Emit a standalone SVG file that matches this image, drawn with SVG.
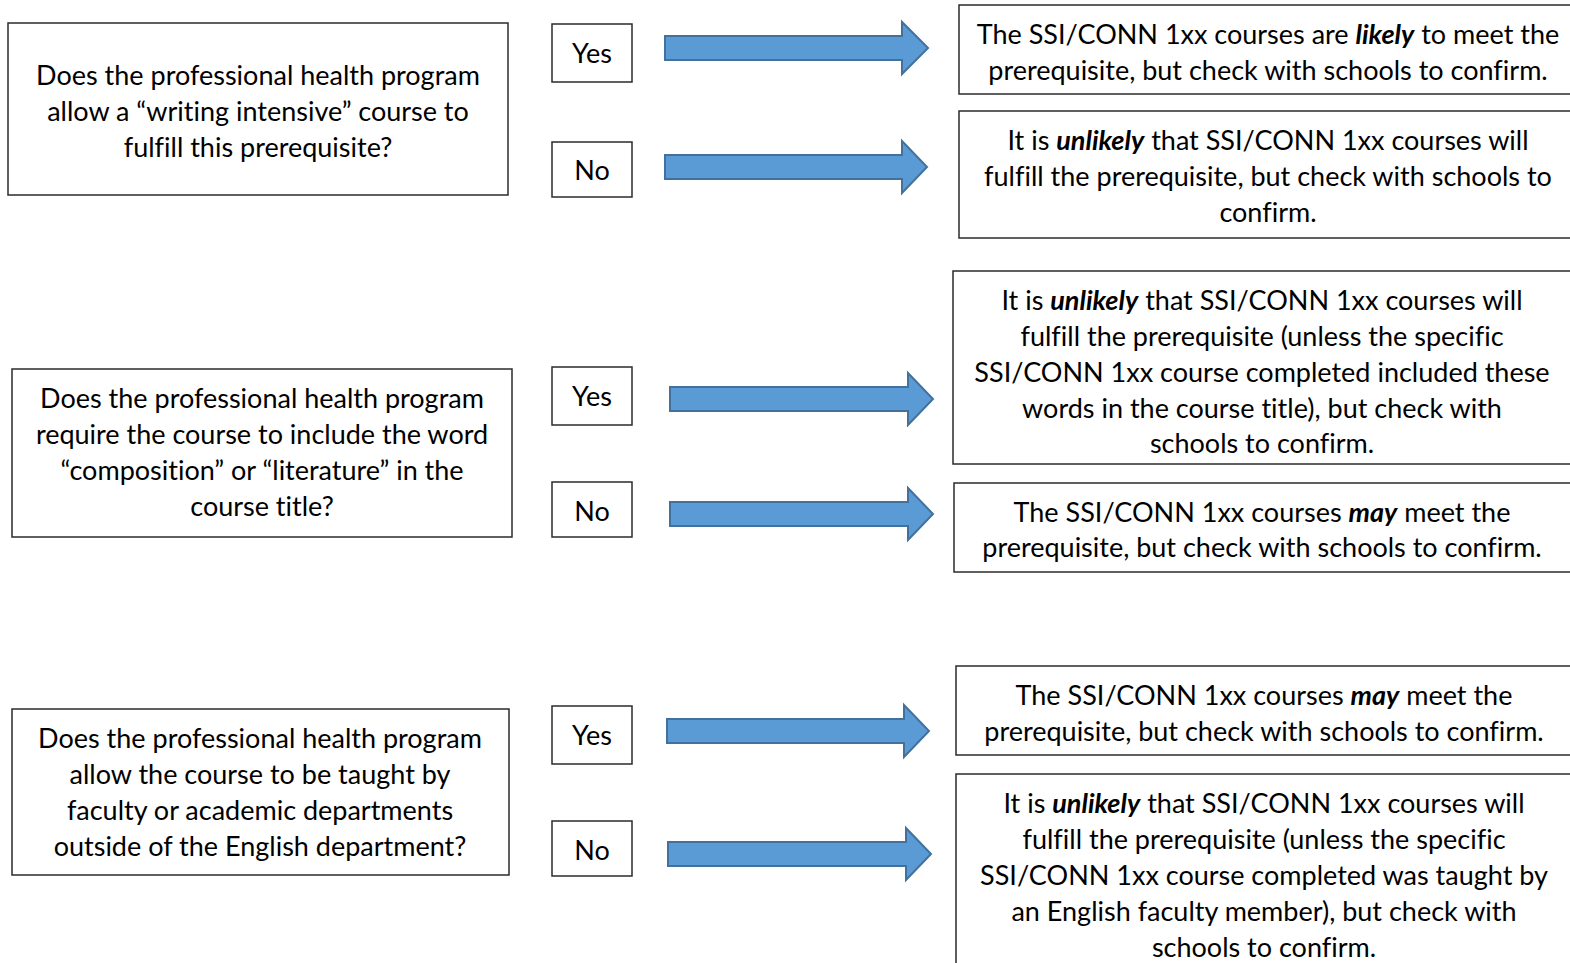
<svg xmlns="http://www.w3.org/2000/svg" width="1570" height="963" viewBox="0 0 1570 963">
<style>
.box{fill:#fff;stroke:#2b2b2b;stroke-width:1.5}
.t{font-family:Lato,"Liberation Sans",sans-serif;font-size:27px;fill:#000;text-anchor:middle;font-variant-ligatures:none}
.em{font-weight:bold;font-style:italic}
.arr{fill:#5B9BD5;stroke:#41719C;stroke-width:2;stroke-linejoin:miter}
</style>
<rect width="1570" height="963" fill="#fff"/>
<g id="q1">
<rect class="box" x="8" y="23" width="500" height="172"/>
<text class="t" x="258" y="85">Does the professional health program</text>
<text class="t" x="258" y="121">allow a “writing intensive” course to</text>
<text class="t" x="258" y="157">fulfill this prerequisite?</text>
</g>
<g id="q1-yes"><rect class="box" x="552" y="24" width="80" height="58"/><text class="t" x="592" y="63">Yes</text></g>
<g id="q1-no"><rect class="box" x="552" y="142" width="80" height="55"/><text class="t" x="592" y="180">No</text></g>
<g id="r1a">
<rect class="box" x="959" y="5" width="620" height="89"/>
<text class="t" x="1268" y="44">The SSI/CONN 1xx courses are <tspan class="em">likely</tspan> to meet the</text>
<text class="t" x="1268" y="80">prerequisite, but check with schools to confirm.</text>
</g>
<g id="r1b">
<rect class="box" x="959" y="111" width="620" height="127"/>
<text class="t" x="1268" y="150">It is <tspan class="em">unlikely</tspan> that SSI/CONN 1xx courses will</text>
<text class="t" x="1268" y="186">fulfill the prerequisite, but check with schools to</text>
<text class="t" x="1268" y="222">confirm.</text>
</g>
<g id="q2">
<rect class="box" x="12" y="369" width="500" height="168"/>
<text class="t" x="262" y="408">Does the professional health program</text>
<text class="t" x="262" y="444">require the course to include the word</text>
<text class="t" x="262" y="480">“composition” or “literature” in the</text>
<text class="t" x="262" y="516">course title?</text>
</g>
<g id="q2-yes"><rect class="box" x="552" y="367" width="80" height="58"/><text class="t" x="592" y="406">Yes</text></g>
<g id="q2-no"><rect class="box" x="552" y="482" width="80" height="55"/><text class="t" x="592" y="521">No</text></g>
<g id="r2a">
<rect class="box" x="953" y="271" width="626" height="193"/>
<text class="t" x="1262" y="310">It is <tspan class="em">unlikely</tspan> that SSI/CONN 1xx courses will</text>
<text class="t" x="1262" y="346">fulfill the prerequisite (unless the specific</text>
<text class="t" x="1262" y="382">SSI/CONN 1xx course completed included these</text>
<text class="t" x="1262" y="418">words in the course title), but check with</text>
<text class="t" x="1262" y="453">schools to confirm.</text>
</g>
<g id="r2b">
<rect class="box" x="954" y="483" width="625" height="89"/>
<text class="t" x="1262" y="522">The SSI/CONN 1xx courses <tspan class="em">may</tspan> meet the</text>
<text class="t" x="1262" y="557">prerequisite, but check with schools to confirm.</text>
</g>
<g id="q3">
<rect class="box" x="12" y="709" width="497" height="166"/>
<text class="t" x="260" y="748">Does the professional health program</text>
<text class="t" x="260" y="784">allow the course to be taught by</text>
<text class="t" x="260" y="820">faculty or academic departments</text>
<text class="t" x="260" y="856">outside of the English department?</text>
</g>
<g id="q3-yes"><rect class="box" x="552" y="706" width="80" height="58"/><text class="t" x="592" y="745">Yes</text></g>
<g id="q3-no"><rect class="box" x="552" y="821" width="80" height="55"/><text class="t" x="592" y="860">No</text></g>
<g id="r3a">
<rect class="box" x="956" y="666" width="623" height="89"/>
<text class="t" x="1264" y="705">The SSI/CONN 1xx courses <tspan class="em">may</tspan> meet the</text>
<text class="t" x="1264" y="741">prerequisite, but check with schools to confirm.</text>
</g>
<g id="r3b">
<rect class="box" x="956" y="774" width="623" height="200"/>
<text class="t" x="1264" y="813">It is <tspan class="em">unlikely</tspan> that SSI/CONN 1xx courses will</text>
<text class="t" x="1264" y="849">fulfill the prerequisite (unless the specific</text>
<text class="t" x="1264" y="885">SSI/CONN 1xx course completed was taught by</text>
<text class="t" x="1264" y="921">an English faculty member), but check with</text>
<text class="t" x="1264" y="957">schools to confirm.</text>
</g>
<g id="connectors">
<polygon class="arr" points="665,36 902,36 902,22 928,48 902,74 902,60 665,60"/>
<polygon class="arr" points="665,155 902,155 902,141 927,167 902,193 902,179 665,179"/>
<polygon class="arr" points="670,387 908,387 908,373 933,399 908,425 908,411 670,411"/>
<polygon class="arr" points="670,502 908,502 908,488 933,514 908,540 908,526 670,526"/>
<polygon class="arr" points="667,719 904,719 904,705 929,731 904,757 904,743 667,743"/>
<polygon class="arr" points="668,842 906,842 906,828 931,854 906,880 906,866 668,866"/>
</g>
</svg>
